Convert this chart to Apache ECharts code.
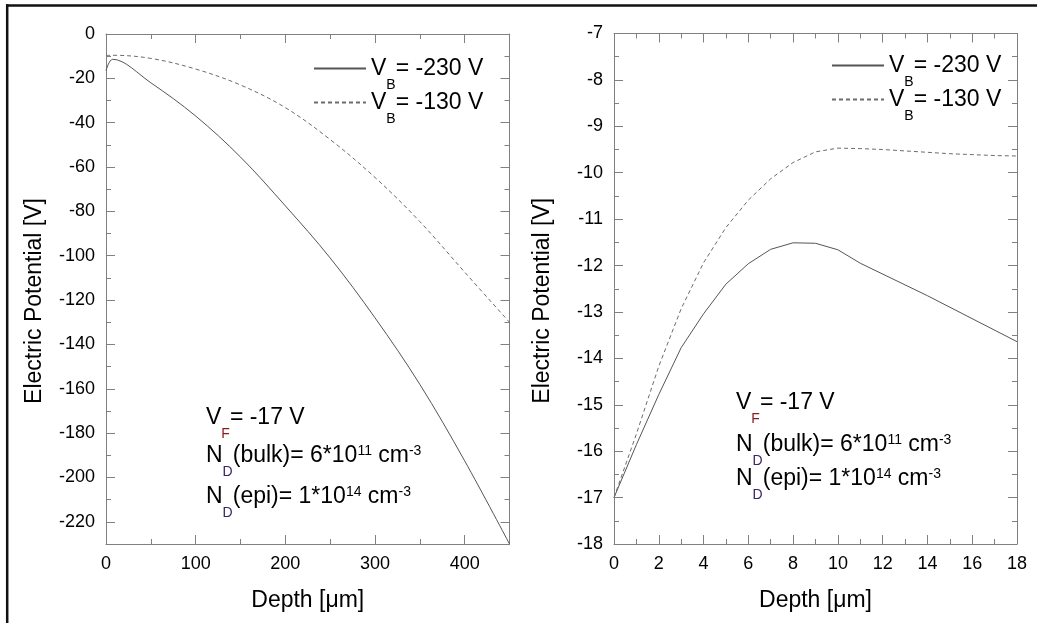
<!DOCTYPE html>
<html>
<head>
<meta charset="utf-8">
<script src="https://cdn.jsdelivr.net/npm/echarts@6/dist/echarts.min.js"></script>
<style>
  html, body { margin: 0; padding: 0; background: #fff; }
  #chart { width: 1037px; height: 623px; }
</style>
</head>
<body>
<div id="chart"></div>
<script>
// Potential profile through the whole wafer (depth in µm, potential in V)
const depthWide230 = [0, 7.5, 50, 100, 150, 200, 250, 300, 350, 400, 450];
const potWide230   = [-16.5, -11.4, -22, -37, -55.5, -77.5, -101, -128, -158, -192.5, -230];
const depthWide130 = [0, 7.5, 50, 100, 150, 200, 250, 300, 350, 400, 450];
const potWide130   = [-9.7, -9.6, -11, -15.8, -23, -33.2, -47.6, -64.7, -84.6, -107.4, -130];

// Close-up of the epitaxial layer near the surface
const depthEpi230 = [0, 1, 2, 3, 4, 5, 6, 7, 8, 9, 10, 11, 14, 18];
const potEpi230   = [-17, -15.86, -14.78, -13.77, -13.04, -12.4, -11.96, -11.65, -11.51, -11.52, -11.66, -11.95, -12.65, -13.64];
const depthEpi130 = [0, 1, 2, 3, 4, 5, 6, 7, 8, 9, 10, 11, 12, 13, 14, 15, 16, 17, 18];
const potEpi130   = [-17, -15.63, -14.17, -12.93, -11.94, -11.18, -10.59, -10.13, -9.78, -9.55, -9.47, -9.48, -9.5, -9.53, -9.56, -9.59, -9.61, -9.63, -9.64];

// Tick positions of the wide-range plot
const wideXMajor = [0, 100, 200, 300, 400];
const wideXMinor = [50, 150, 250, 350];
const wideYMajor = [-220, -200, -180, -160, -140, -120, -100, -80, -60, -40, -20, 0];
const wideYMinor = [-210, -190, -170, -150, -130, -110, -90, -70, -50, -30, -10];

// Series / legend labels
const seriesNames = ['VB-230', 'VB-130'];
const legendText = {
  'VB-230': '{v|V}{s|B}{v|= -230 V}',
  'VB-130': '{v|V}{s|B}{v|= -130 V}'
};
const xTitle = 'Depth [μm]';
const yTitle = 'Electric Potential [V]';

const FONT = 'Liberation Sans, Arial, sans-serif';
const AXIS = '#808080';

function zip(xs, ys) { return xs.map((x, i) => [x, ys[i]]); }

const labelStyle = { color: '#000', fontSize: 18, fontFamily: FONT };
const titleStyle = { color: '#000', fontSize: 23, fontFamily: FONT };

// axis with explicit tick positions (wide plot)
function customAxis(grid, pos, min, max, ticks, len, showLine, labels, title, isY) {
  return {
    type: 'value', gridIndex: grid, position: pos, min: min, max: max,
    axisLine: { show: showLine, onZero: false, lineStyle: { color: AXIS, width: 1 } },
    axisTick: { show: true, inside: true, length: len, customValues: ticks, lineStyle: { color: AXIS } },
    splitLine: { show: false },
    axisLabel: Object.assign({ show: labels, customValues: ticks, margin: 11 }, labelStyle),
    name: title || '', nameLocation: 'middle', nameGap: isY ? 60 : 45,
    nameTextStyle: Object.assign({ padding: isY ? [0, 24, 0, 0] : 0 }, titleStyle)
  };
}
// axis with regular interval ticks (epitaxial plot)
function intervalAxis(grid, pos, min, max, interval, labels, title, isY) {
  return {
    type: 'value', gridIndex: grid, position: pos, min: min, max: max, interval: interval,
    axisLine: { show: true, onZero: false, lineStyle: { color: AXIS, width: 1 } },
    axisTick: { show: true, inside: true, length: 9, lineStyle: { color: AXIS } },
    minorTick: { show: true, splitNumber: 2, length: 5, lineStyle: { color: AXIS } },
    splitLine: { show: false }, minorSplitLine: { show: false },
    axisLabel: Object.assign({ show: labels, margin: 11 }, labelStyle),
    name: title || '', nameLocation: 'middle', nameGap: isY ? 60 : 45,
    nameTextStyle: Object.assign({ padding: isY ? [0, 24, 0, 0] : 0 }, titleStyle)
  };
}

const legendRich = {
  v: { fontSize: 23, lineHeight: 48, verticalAlign: 'middle', fontFamily: FONT, color: '#000' },
  s: { fontSize: 14, lineHeight: 14, verticalAlign: 'bottom', fontFamily: FONT, color: '#000' }
};
function legendDef(name, left, top) {
  return {
    data: [name], orient: 'vertical', left: left, top: top, padding: 0,
    itemWidth: 52, itemHeight: 14, selectedMode: false,
    itemStyle: { opacity: 0 },
    formatter: n => legendText[n],
    textStyle: { fontSize: 23, fontFamily: FONT, color: '#000', rich: legendRich }
  };
}

// Annotation text with sub/superscripts
const noteRich = {
  v: { fontSize: 23, lineHeight: 30, verticalAlign: 'top', fontFamily: FONT, fill: '#000' },
  f: { fontSize: 14, lineHeight: 56, verticalAlign: 'middle', fontFamily: FONT, fill: '#8b1c24' },
  d: { fontSize: 14, lineHeight: 56, verticalAlign: 'middle', fontFamily: FONT, fill: '#3a2468' },
  p: { fontSize: 14, lineHeight: 14, verticalAlign: 'top', fontFamily: FONT, fill: '#000' }
};
const noteLines = [
  '{v|V}{f|F}{v|= -17 V}',
  '{v|N}{d|D}{v|(bulk)= 6*10}{p|11}{v| cm}{p|-3}',
  '{v|N}{d|D}{v|(epi)= 1*10}{p|14}{v| cm}{p|-3}'
];
function noteBlock(x, tops) {
  return noteLines.map((t, i) => ({
    type: 'text', left: x, top: tops[i], silent: true,
    style: { text: t, rich: noteRich, fontSize: 23, fontFamily: FONT, fill: '#000' }
  }));
}

const option = {
  animation: false,
  backgroundColor: '#fff',
  grid: [
    { left: 106, top: 34, width: 403.5, height: 510 },
    { left: 614, top: 33.5, width: 403, height: 510.5 }
  ],
  xAxis: [
    customAxis(0, 'bottom', 0, 450, wideXMajor, 9, true, true, xTitle, false),
    customAxis(0, 'bottom', 0, 450, wideXMinor, 5, false, false, '', false),
    customAxis(0, 'top', 0, 450, wideXMajor, 9, true, false, '', false),
    customAxis(0, 'top', 0, 450, wideXMinor, 5, false, false, '', false),
    intervalAxis(1, 'bottom', 0, 18, 2, true, xTitle, false),
    intervalAxis(1, 'top', 0, 18, 2, false, '', false)
  ],
  yAxis: [
    customAxis(0, 'left', -230, 0, wideYMajor, 9, true, true, yTitle, true),
    customAxis(0, 'left', -230, 0, wideYMinor, 5, false, false, '', true),
    customAxis(0, 'right', -230, 0, wideYMajor, 9, true, false, '', true),
    customAxis(0, 'right', -230, 0, wideYMinor, 5, false, false, '', true),
    intervalAxis(1, 'left', -18, -7, 1, true, yTitle, true),
    intervalAxis(1, 'right', -18, -7, 1, false, '', true)
  ],
  legend: [
    legendDef(seriesNames[0], 313, 57),
    legendDef(seriesNames[1], 313, 91),
    legendDef(seriesNames[0], 831, 54),
    legendDef(seriesNames[1], 831, 88)
  ],
  series: [
    { name: seriesNames[0], type: 'line', xAxisIndex: 0, yAxisIndex: 0, data: zip(depthWide230, potWide230),
      symbol: 'none', smooth: 0.35, itemStyle: { color: '#555' }, lineStyle: { color: '#555', width: 1, type: 'solid' } },
    { name: seriesNames[1], type: 'line', xAxisIndex: 0, yAxisIndex: 0, data: zip(depthWide130, potWide130),
      symbol: 'none', smooth: 0.35, itemStyle: { color: '#6c6c6c' }, lineStyle: { color: '#6c6c6c', width: 1, type: [4, 3] } },
    { name: seriesNames[0], type: 'line', xAxisIndex: 4, yAxisIndex: 4, data: zip(depthEpi230, potEpi230),
      symbol: 'none', itemStyle: { color: '#555' }, lineStyle: { color: '#555', width: 1, type: 'solid' } },
    { name: seriesNames[1], type: 'line', xAxisIndex: 4, yAxisIndex: 4, data: zip(depthEpi130, potEpi130),
      symbol: 'none', itemStyle: { color: '#6c6c6c' }, lineStyle: { color: '#6c6c6c', width: 1, type: [4, 3] } }
  ],
  graphic: [
    { type: 'line', silent: true, shape: { x1: 6, y1: 5.5, x2: 1037, y2: 5.5 }, style: { stroke: '#111', lineWidth: 2.5 } },
    { type: 'line', silent: true, shape: { x1: 7.2, y1: 4.3, x2: 7.2, y2: 623 }, style: { stroke: '#111', lineWidth: 2.5 } }
  ].concat(noteBlock(206, [406, 444.5, 485]), noteBlock(736, [391.5, 433, 467]))
};

const chart = echarts.init(document.getElementById('chart'), null, { renderer: 'canvas' });
chart.setOption(option);
</script>
</body>
</html>
